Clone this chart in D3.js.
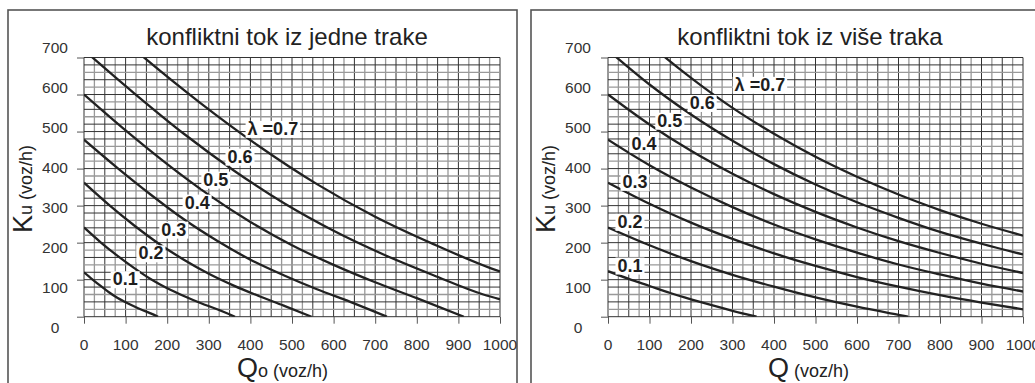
<!DOCTYPE html>
<html>
<head>
<meta charset="utf-8">
<script src="https://cdn.jsdelivr.net/npm/d3@7"></script>
<style>
  body { margin: 0; background: #fff; }
  svg { display: block; font-family: "Liberation Sans", Arial, sans-serif; }
</style>
</head>
<body>
<svg id="chart" width="1035" height="383"></svg>
<script>
// Axis ticks
const qTicks = d3.range(0, 1001, 100);
const kuTicks = d3.range(0, 701, 100);
const lambdaText = ["0.1", "0.2", "0.3", "0.4", "0.5", "0.6", "λ =0.7"];

// Conflicting flow from a single lane: [Qo, Ku] per λ
const jedne01 = [[0,120],[20,101],[40,83],[60,66],[80,51],[100,39],[120,28],[140,18],[160,9],[178,0]];
const jedne02 = [[0,241],[40,201],[80,165],[120,132],[160,102],[200,77],[240,56],[280,37],[320,20],[363,0]];
const jedne03 = [[0,362],[60,302],[120,247],[180,197],[240,154],[300,116],[360,84],[420,56],[480,30],[547,0]];
const jedne04 = [[0,478],[80,402],[160,330],[240,263],[320,205],[400,154],[480,112],[560,74],[640,40],[728,0]];
const jedne05 = [[0,600],[100,503],[200,412],[300,329],[400,256],[500,193],[600,140],[700,93],[800,50],[913,0]];
const jedne06 = [[0,720],[120,604],[240,494],[360,395],[480,307],[600,232],[720,168],[840,112],[960,60],[1000,47]];
const jedne07 = [[0,840],[140,704],[280,577],[420,461],[560,358],[700,270],[840,196],[980,130],[1000,122]];
// where each λ label sits: [Qo, Ku]
const jedneLabelAt = [[99,102],[161,172],[216,236],[272,309],[317,371],[375,433],[454,508]];

// Conflicting flow from several lanes: [Q, Ku] per λ
const vise01 = [[0,123],[50,102],[100,83],[150,64],[200,47],[250,31],[300,16],[358,0]];
const vise02 = [[0,241],[100,193],[200,150],[300,113],[400,81],[500,52],[600,27],[700,5],[723,0]];
const vise03 = [[0,362],[100,305],[200,254],[300,210],[400,171],[500,137],[600,107],[700,81],[800,58],[900,38],[1000,20]];
const vise04 = [[0,478],[100,409],[200,349],[300,296],[400,249],[500,209],[600,173],[700,141],[800,114],[900,89],[1000,68]];
const vise05 = [[0,600],[100,519],[200,448],[300,386],[400,331],[500,283],[600,241],[700,204],[800,172],[900,143],[1000,118]];
const vise06 = [[0,720],[100,627],[200,546],[300,475],[400,412],[500,357],[600,309],[700,267],[800,229],[900,197],[1000,168]];
const vise07 = [[0,840],[100,736],[200,645],[300,564],[400,494],[500,432],[600,378],[700,330],[800,288],[900,251],[1000,219]];
const viseLabelAt = [[53,139],[53,257],[65,365],[87,468],[149,530],[227,578],[366,627]];

const svg = d3.select("#chart");

function drawPanel(p) {
  const g = svg.append("g");

  // panel frame
  g.append("rect")
    .attr("x", p.box[0]).attr("y", 10)
    .attr("width", p.box[1] - p.box[0]).attr("height", 420)
    .attr("fill", "none").attr("stroke", "#555").attr("stroke-width", 1.6);

  const x = d3.scaleLinear().domain([0, 1000]).range(p.xr);
  const y = d3.scaleLinear().domain([0, 700]).range([316.7, 57.5]);
  const yText = d3.scaleLinear().domain([0, 700]).range([327.5, 48]);

  // fine grid
  const grid = g.append("g");
  const darkV = d => d % 50 === 0;
  const darkH = d => d % 100 === 0 || d % 40 === 0;
  grid.selectAll("line.v").data(d3.range(0, 1001, 25)).join("line")
    .attr("x1", d => x(d)).attr("x2", d => x(d))
    .attr("y1", y(0)).attr("y2", y(700))
    .attr("stroke", d => darkV(d) ? "#333" : "#999")
    .attr("stroke-width", d => darkV(d) ? 1 : 1.3);
  grid.selectAll("line.h").data(d3.range(0, 701, 20)).join("line")
    .attr("x1", x(0)).attr("x2", x(1000))
    .attr("y1", d => y(d)).attr("y2", d => y(d))
    .attr("stroke", d => darkH(d) ? "#333" : "#999")
    .attr("stroke-width", d => darkH(d) ? 1 : 1.3);

  // outer tick marks
  g.append("g").attr("transform", `translate(${x(0)},0)`)
    .call(d3.axisLeft(y).tickValues(kuTicks).tickSize(7).tickFormat(""))
    .call(a => a.select(".domain").remove())
    .call(a => a.selectAll("line").attr("stroke", "#555"));
  g.append("g").attr("transform", `translate(0,${y(0)})`)
    .call(d3.axisBottom(x).tickValues(qTicks).tickSize(7).tickFormat(""))
    .call(a => a.select(".domain").remove())
    .call(a => a.selectAll("line").attr("stroke", "#555"));

  // tick labels
  g.selectAll("text.yt").data(kuTicks).join("text")
    .attr("x", p.yLabelX).attr("y", d => yText(d)).attr("dy", "0.35em")
    .attr("text-anchor", "middle").attr("font-size", 15.5).attr("fill", "#333")
    .text(d => d);
  g.selectAll("text.xt").data(qTicks).join("text")
    .attr("x", d => x(d)).attr("y", 345).attr("dy", "0.35em")
    .attr("text-anchor", "middle").attr("font-size", 15.5).attr("fill", "#333")
    .text(d => d);

  // title
  g.append("text").attr("x", p.titleX).attr("y", 45)
    .attr("text-anchor", "middle").attr("font-size", 24).attr("fill", "#222")
    .text(p.title);

  // x axis title
  const xt = g.append("text").attr("x", p.xTitleX).attr("y", 377).attr("fill", "#222");
  xt.append("tspan").attr("font-size", 27).text("Q");
  if (p.xSub) xt.append("tspan").attr("font-size", 18).text(p.xSub);
  xt.append("tspan").attr("font-size", 18).text(" (voz/h)");

  // y axis title
  const yt = g.append("text")
    .attr("transform", `translate(${p.yTitleX},233) rotate(-90)`).attr("fill", "#222");
  yt.append("tspan").attr("font-size", 27).text("K");
  yt.append("tspan").attr("font-size", 18).text("u");
  yt.append("tspan").attr("font-size", 18).text(" (voz/h)");

  // curves, clipped to the plotting area
  const clipId = "clip-" + p.id;
  g.append("clipPath").attr("id", clipId).append("rect")
    .attr("x", x(0)).attr("y", y(700))
    .attr("width", x(1000) - x(0)).attr("height", y(0) - y(700));
  const line = d3.line().x(d => x(d[0])).y(d => y(d[1])).curve(d3.curveMonotoneX);
  g.append("g").attr("clip-path", `url(#${clipId})`)
    .selectAll("path").data(p.curves).join("path")
    .attr("d", line).attr("fill", "none")
    .attr("stroke", "#222").attr("stroke-width", 2.3);

  // λ labels with white backing
  const lab = g.append("g").selectAll("g").data(p.labels).join("g")
    .attr("transform", d => `translate(${x(d[0])},${y(d[1])})`);
  const txt = lab.append("text")
    .attr("text-anchor", "middle").attr("dy", "0.35em")
    .attr("font-size", 18).attr("font-weight", "bold").attr("fill", "#1e1e1e")
    .text((d, i) => lambdaText[i]);
  txt.each(function () {
    const b = this.getBBox();
    d3.select(this.parentNode).insert("rect", "text")
      .attr("x", b.x - 2).attr("y", b.y + 2)
      .attr("width", b.width + 4).attr("height", b.height - 3)
      .attr("fill", "#fff");
  });
}

drawPanel({
  id: "jedne", box: [8, 517], xr: [84, 500], yLabelX: 55, titleX: 287,
  title: "konfliktni tok iz jedne trake", xTitleX: 237, xSub: "o", yTitleX: 32,
  curves: [jedne01, jedne02, jedne03, jedne04, jedne05, jedne06, jedne07],
  labels: jedneLabelAt
});
drawPanel({
  id: "vise", box: [531, 1045], xr: [608, 1023], yLabelX: 578, titleX: 810,
  title: "konfliktni tok iz više traka", xTitleX: 768, xSub: null, yTitleX: 555,
  curves: [vise01, vise02, vise03, vise04, vise05, vise06, vise07],
  labels: viseLabelAt
});
</script>
</body>
</html>
